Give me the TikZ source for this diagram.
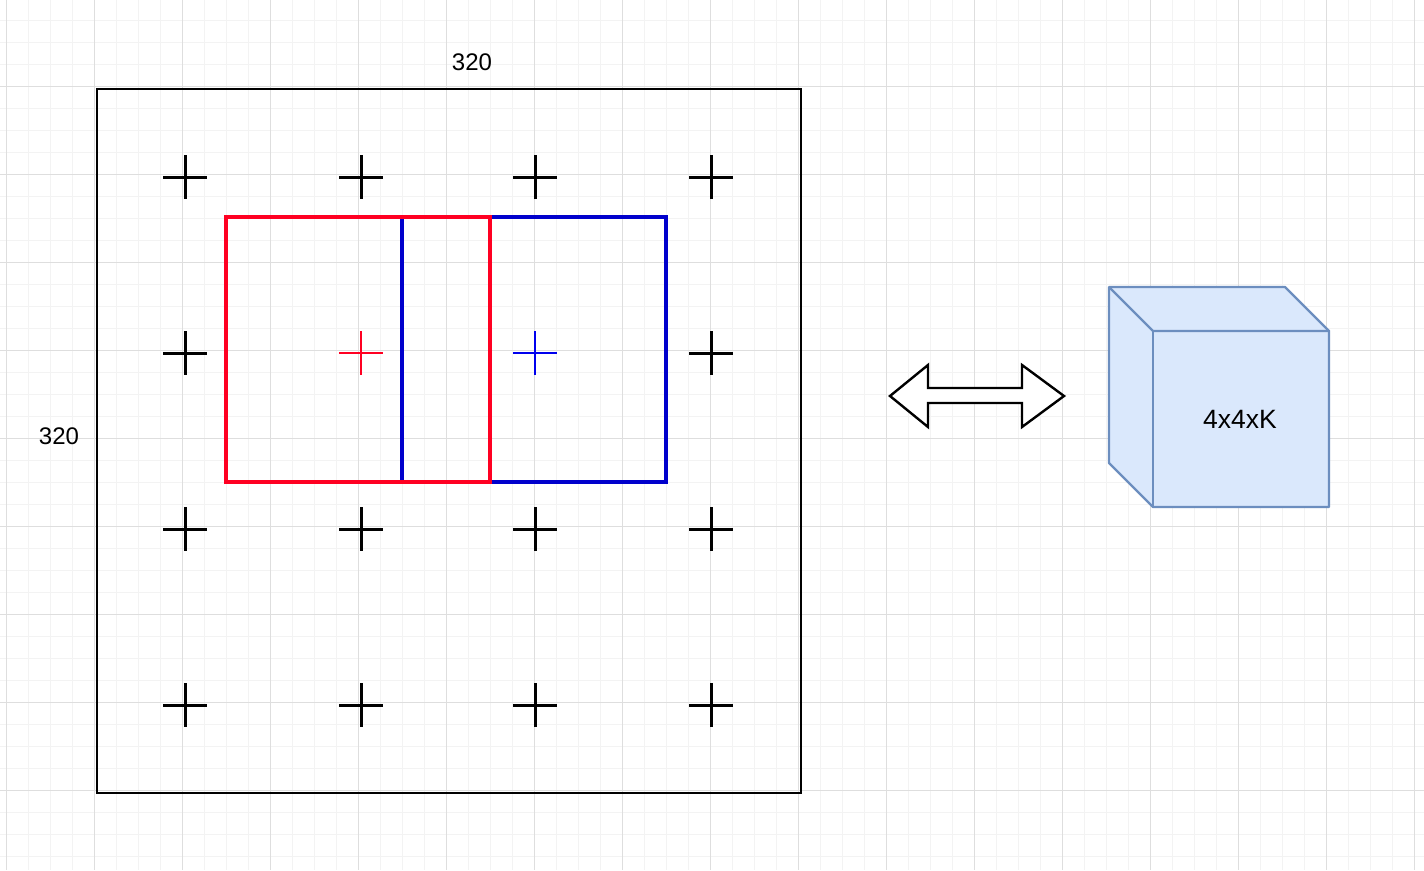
\documentclass[tikz,border=0pt]{standalone}
\usepackage{fontspec}
\setmainfont{Liberation Sans}
\definecolor{gmin}{HTML}{F3F3F3}
\definecolor{gmaj}{HTML}{DEDEDE}
\definecolor{myred}{HTML}{FF0022}
\definecolor{myblue}{HTML}{0000CC}
\definecolor{crossblue}{HTML}{0000EE}
\definecolor{cubefill}{HTML}{DAE8FC}
\definecolor{cubeline}{HTML}{6C8EBF}
\tikzset{
  minorgrid/.style={gmin, line width=1pt},
  majorgrid/.style={gmaj, line width=1pt},
  crossmark/.style={black, line width=3pt},
  boardbox/.style={draw=black, line width=2.2pt, minimum width=704pt, minimum height=704pt, inner sep=0pt},
  windowbox/.style={draw=#1, line width=3.6pt, minimum width=264pt, minimum height=265pt, inner sep=0pt},
  sizelabel/.style={inner sep=0pt, font=\fontsize{24}{28}\selectfont},
  cubelabel/.style={inner sep=0pt, font=\fontsize{26.5}{30}\selectfont},
  cubeedge/.style={draw=cubeline, line width=2.4pt, line join=round}
}
\begin{document}
\begin{tikzpicture}[x=1pt,y=-1pt]
\useasboundingbox (0,0) rectangle (1424,870);
\fill[white] (0,0) rectangle (1424,870);
% grid
\foreach \i in {0,...,64} \draw[minorgrid] ({6.5+22*\i},0) -- ++(0,870);
\foreach \j in {0,...,40} \draw[minorgrid] (0,{-1.5+22*\j}) -- ++(1424,0);
\foreach \i in {0,...,16} \draw[majorgrid] ({6.5+88*\i},0) -- ++(0,870);
\foreach \j in {0,...,10} \draw[majorgrid] (0,{-1.5+88*\j}) -- ++(1424,0);
% board
\node[boardbox] (board) at (449,441) {};
\node[sizelabel] (toplabel) at (472,62) {320};
\node[sizelabel] (leftlabel) at (59,436) {320};
% black crosses
\foreach \x in {185,361,535,711}{
  \foreach \y in {177,353,529,705}{
    \pgfmathtruncatemacro{\skipme}{(\y==353)*((\x==361)+(\x==535))}
    \ifnum\skipme=0
      \draw[crossmark] ({\x-22},\y) -- ({\x+22},\y) ({\x},{\y-22}) -- ({\x},{\y+22});
    \fi
  }
}
% windows
\node[windowbox=myblue] (bluewin) at (534,349.5) {};
\node[windowbox=myred] (redwin) at (358,349.5) {};
\coordinate (redc) at (361,353);
\coordinate (bluec) at (535,353);
\draw[myred, line width=2.5pt] ([xshift=-22pt]redc) -- ([xshift=22pt]redc) ([yshift=22pt]redc) -- ([yshift=-22pt]redc);
\draw[crossblue, line width=2.5pt] ([xshift=-22pt]bluec) -- ([xshift=22pt]bluec) ([yshift=22pt]bluec) -- ([yshift=-22pt]bluec);
% double arrow
\draw[black, fill=white, line width=2.4pt, line join=miter]
  (890,396) -- (928,365) -- (928,388) -- (1022,388) -- (1022,365) -- (1064,396)
  -- (1022,427) -- (1022,403) -- (928,403) -- (928,427) -- cycle;
% cube
\fill[cubefill] (1109,287) -- (1285,287) -- (1329,331) -- (1329,507) -- (1153,507) -- (1109,463) -- cycle;
\draw[cubeedge] (1109,287) -- (1285,287) -- (1329,331) -- (1329,507) -- (1153,507) -- (1109,463) -- cycle;
\draw[cubeedge] (1109,287) -- (1153,331) -- (1329,331);
\draw[cubeedge] (1153,331) -- (1153,507);
\node[cubelabel] (cubetext) at (1240,419.5) {4x4xK};
\end{tikzpicture}
\end{document}
